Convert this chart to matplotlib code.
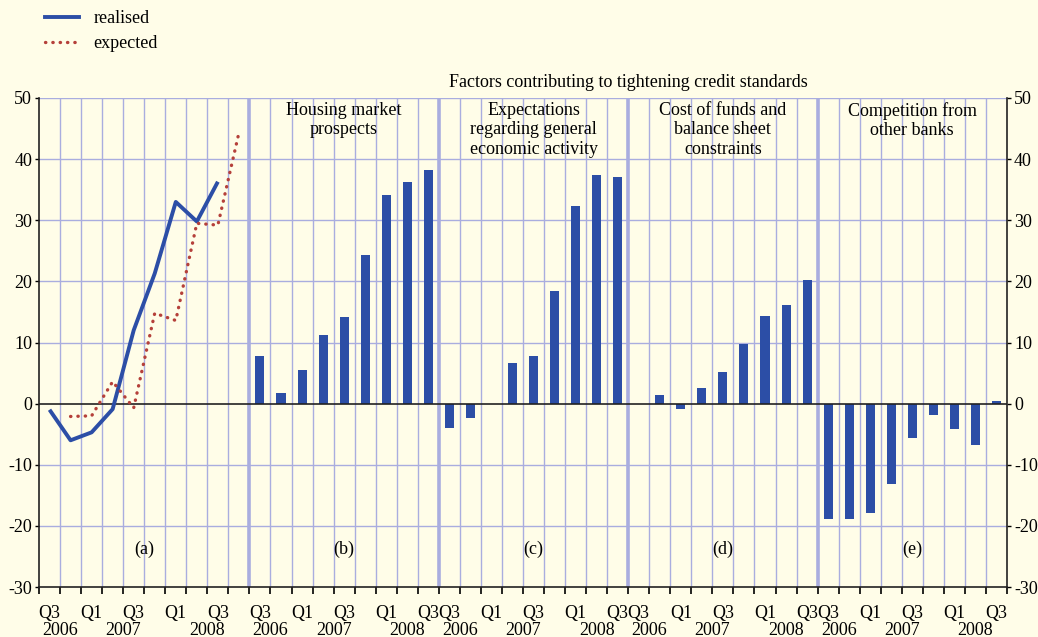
import numpy as np
import matplotlib
matplotlib.use('Agg')
import matplotlib.pyplot as plt
from matplotlib.lines import Line2D
import matplotlib.transforms as mtransforms

plt.rcParams['font.family'] = ['Liberation Serif', 'DejaVu Serif']

# panel (a): net percentage balances, realised and expected
realised = [-1.0, -6.0, -4.7, -0.9, 12.0, 21.3, 33.0, 29.8, 36.3]
expected = [np.nan, -2.1, -2.0, 3.6, -0.7, 14.8, 13.6, 29.5, 29.2, 44.3]

# panels (b)-(e): factors contributing to tightening
housing = [7.8, 1.7, 5.5, 11.3, 14.2, 24.3, 34.1, 36.2, 38.3]
economic = [-4.0, -2.4, 0.0, 6.7, 7.8, 18.4, 32.3, 37.4, 37.1]
cost_funds = [0.0, 1.4, -0.8, 2.5, 5.1, 9.7, 14.3, 16.1, 20.3]
competition = [-18.8, -18.9, -17.9, -13.1, -5.7, -1.9, -4.2, -6.8, 0.4]

panel_titles = ['', 'Housing market\nprospects',
                'Expectations\nregarding general\neconomic activity',
                'Cost of funds and\nbalance sheet\nconstraints',
                'Competition from\nother banks']
panel_tags = ['(a)', '(b)', '(c)', '(d)', '(e)']
quarter_labels = ['Q3', '', 'Q1', '', 'Q3', '', 'Q1', '', 'Q3', '']
years = ['2006', '2007', '2008']

bg = '#fffde8'
grid_col = '#a9addf'
blue = '#2c4ea6'
red = '#b5403a'

fig = plt.figure(figsize=(10.38, 6.37), dpi=100, facecolor=bg)
ax = fig.add_axes([39/1038, 1-587/637, 968/1038, 489/637])
ax.set_facecolor(bg)

# panel starts and sizes
starts = [0, 10, 19, 28, 37]
sizes = [10, 9, 9, 9, 9]
total = 46

# grid
for b in range(1, total):
    if b in starts:
        ax.axvline(b, color=grid_col, lw=2.6, zorder=1)
    else:
        ax.axvline(b, color=grid_col, lw=1.0, zorder=1)
for yv in range(-20, 60, 10):
    if yv != 0:
        ax.axhline(yv, color=grid_col, lw=1.0, zorder=1)
ax.axhline(0, color='#222222', lw=1.2, zorder=3)

# panel (a) lines
xa_r = np.arange(len(realised)) + 0.5
xa_e = np.arange(len(expected)) + 0.5
ax.plot(xa_r, realised, color=blue, lw=2.8, zorder=4, solid_capstyle='butt')
ax.plot(xa_e, expected, color=red, lw=2.4, ls=(0, (0.1, 2.1)),
        dash_capstyle='round', zorder=4)

# bars
for s, vals in zip(starts[1:], [housing, economic, cost_funds, competition]):
    xb = s + np.arange(len(vals)) + 0.5
    ax.bar(xb, vals, width=0.43, color=blue, zorder=2)

ax.set_xlim(0, total)
ax.set_ylim(-30, 50)
ax.set_yticks(range(-30, 60, 10))
ax.set_yticklabels([str(v) for v in range(-30, 60, 10)])
ax.tick_params(axis='y', left=True, right=True, labelleft=True, labelright=True,
               length=3, width=1, labelsize=13, pad=2, direction='out')

# x ticks at slot boundaries, quarter labels as minor ticks
ax.set_xticks(range(0, total + 1))
ax.set_xticklabels([])
ax.tick_params(axis='x', which='major', length=5, width=1.2, direction='out')
minor_pos = []
minor_lab = []
for s, n in zip(starts, sizes):
    for i in range(n):
        minor_pos.append(s + i + 0.5)
        minor_lab.append(quarter_labels[i])
ax.set_xticks(minor_pos, minor=True)
ax.set_xticklabels(minor_lab, minor=True)
ax.tick_params(axis='x', which='minor', length=0, labelsize=13, pad=13)

trans = mtransforms.blended_transform_factory(ax.transData, ax.transAxes)
for s, n in zip(starts, sizes):
    year_pos = [s + 1, s + 4, s + (6 + n) / 2]
    for yp, yr in zip(year_pos, years):
        ax.text(yp, -0.088, yr, transform=trans, ha='center', va='center',
                fontsize=13)

for sp in ['top']:
    ax.spines[sp].set_visible(False)
for sp in ['left', 'right', 'bottom']:
    ax.spines[sp].set_color('#222222')
    ax.spines[sp].set_linewidth(1.2)

# panel titles and tags
for s, n, t, tag in zip(starts, sizes, panel_titles, panel_tags):
    c = s + n / 2
    if t:
        ax.text(c, 49.4, t, ha='center', va='top', fontsize=13, linespacing=1.2,
                zorder=5)
    ax.text(c, -23.8, tag, ha='center', va='center', fontsize=13, zorder=5)

ax.text(28, 51.2, 'Factors contributing to tightening credit standards',
        ha='center', va='bottom', fontsize=13)

handles = [Line2D([], [], color=blue, lw=2.8),
           Line2D([], [], color=red, lw=2.4, ls=(0, (0.1, 2.1)),
                  dash_capstyle='round')]
fig.legend(handles, ['realised', 'expected'], loc='upper left',
           bbox_to_anchor=(45/1038, 1-10/637), frameon=False, fontsize=13,
           handlelength=1.9, handletextpad=0.8, labelspacing=0.45, borderpad=0,
           borderaxespad=0)

fig.savefig('out.png', dpi=100, facecolor=bg)
